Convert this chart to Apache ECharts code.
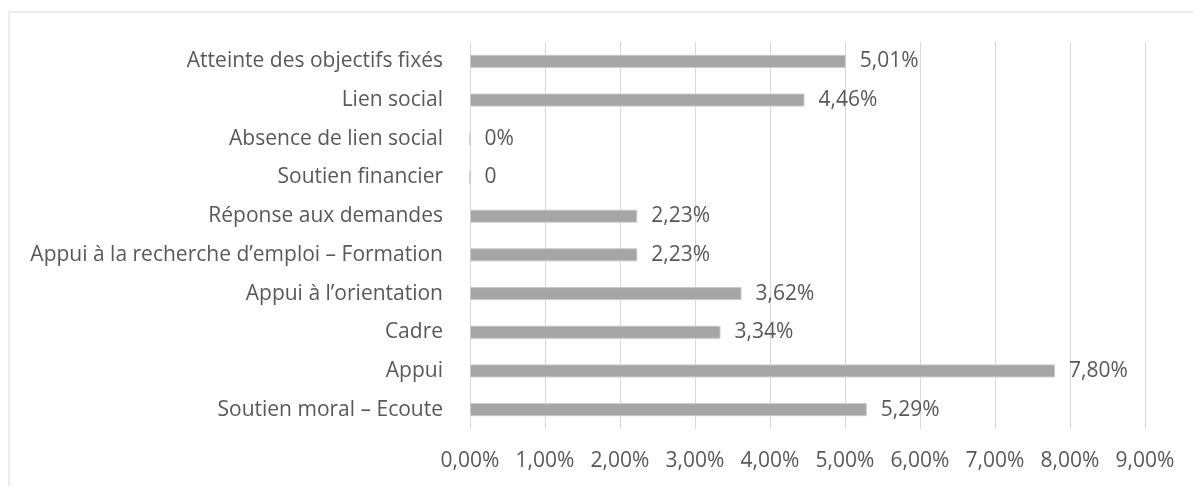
<!DOCTYPE html>
<html>
<head>
<meta charset="utf-8">
<script src="https://cdn.jsdelivr.net/npm/echarts@6/dist/echarts.min.js"></script>
<style>
  html, body { margin: 0; padding: 0; background: #fff; }
  #chart { width: 1193px; height: 486px; }
</style>
</head>
<body>
<div id="chart"></div>
<script>
// catégories (de bas en haut, comme l'axe des y)
const categories = [
  'Soutien moral – Ecoute',
  'Appui',
  'Cadre',
  'Appui à l’orientation',
  'Appui à la recherche d’emploi – Formation',
  'Réponse aux demandes',
  'Soutien financier',
  'Absence de lien social',
  'Lien social',
  'Atteinte des objectifs fixés'
]
const values = [5.29, 7.80, 3.34, 3.62, 2.23, 2.23, 0, 0, 4.46, 5.01]
// étiquettes telles qu'affichées sur le graphique
const valueLabels = ['5,29%', '7,80%', '3,34%', '3,62%', '2,23%', '2,23%', '0', '0%', '4,46%', '5,01%']
const tickLabels = ['0,00%', '1,00%', '2,00%', '3,00%', '4,00%', '5,00%', '6,00%', '7,00%', '8,00%', '9,00%']

const font = 'Open Sans'
const textColor = '#595959'
const fontSize = 21

const myChart = echarts.init(document.getElementById('chart'))
const option = {
  animation: false,
  textStyle: { fontFamily: font },
  graphic: [
    {
      type: 'rect',
      shape: { x: 9, y: 12, width: 1300, height: 600 },
      style: { fill: 'none', stroke: '#d9d9d9', lineWidth: 1 },
      silent: true
    }
  ],
  grid: {
    left: 470,
    right: 48,
    top: 42,
    bottom: 57
  },
  xAxis: {
    type: 'value',
    min: 0,
    max: 9,
    interval: 1,
    axisLine: { show: false },
    axisTick: { show: false },
    splitLine: { lineStyle: { color: '#d9d9d9', width: 1 } },
    axisLabel: {
      color: textColor,
      fontSize: fontSize,
      fontFamily: font,
      margin: 22,
      formatter: (v) => tickLabels[Math.round(v)]
    }
  },
  yAxis: {
    type: 'category',
    data: categories,
    axisLine: { show: true, lineStyle: { color: '#d9d9d9' } },
    axisTick: { show: false },
    axisLabel: {
      color: textColor,
      fontSize: fontSize,
      fontFamily: font,
      margin: 27
    }
  },
  series: [
    {
      type: 'bar',
      data: values,
      barWidth: 13,
      itemStyle: {
        color: '#a5a5a5',
        borderColor: '#c9c9c9',
        borderWidth: 1
      },
      label: {
        show: true,
        position: 'right',
        distance: 14,
        color: textColor,
        fontSize: fontSize,
        fontFamily: font,
        formatter: (p) => valueLabels[p.dataIndex]
      }
    }
  ]
}
myChart.setOption(option)
</script>
</body>
</html>
